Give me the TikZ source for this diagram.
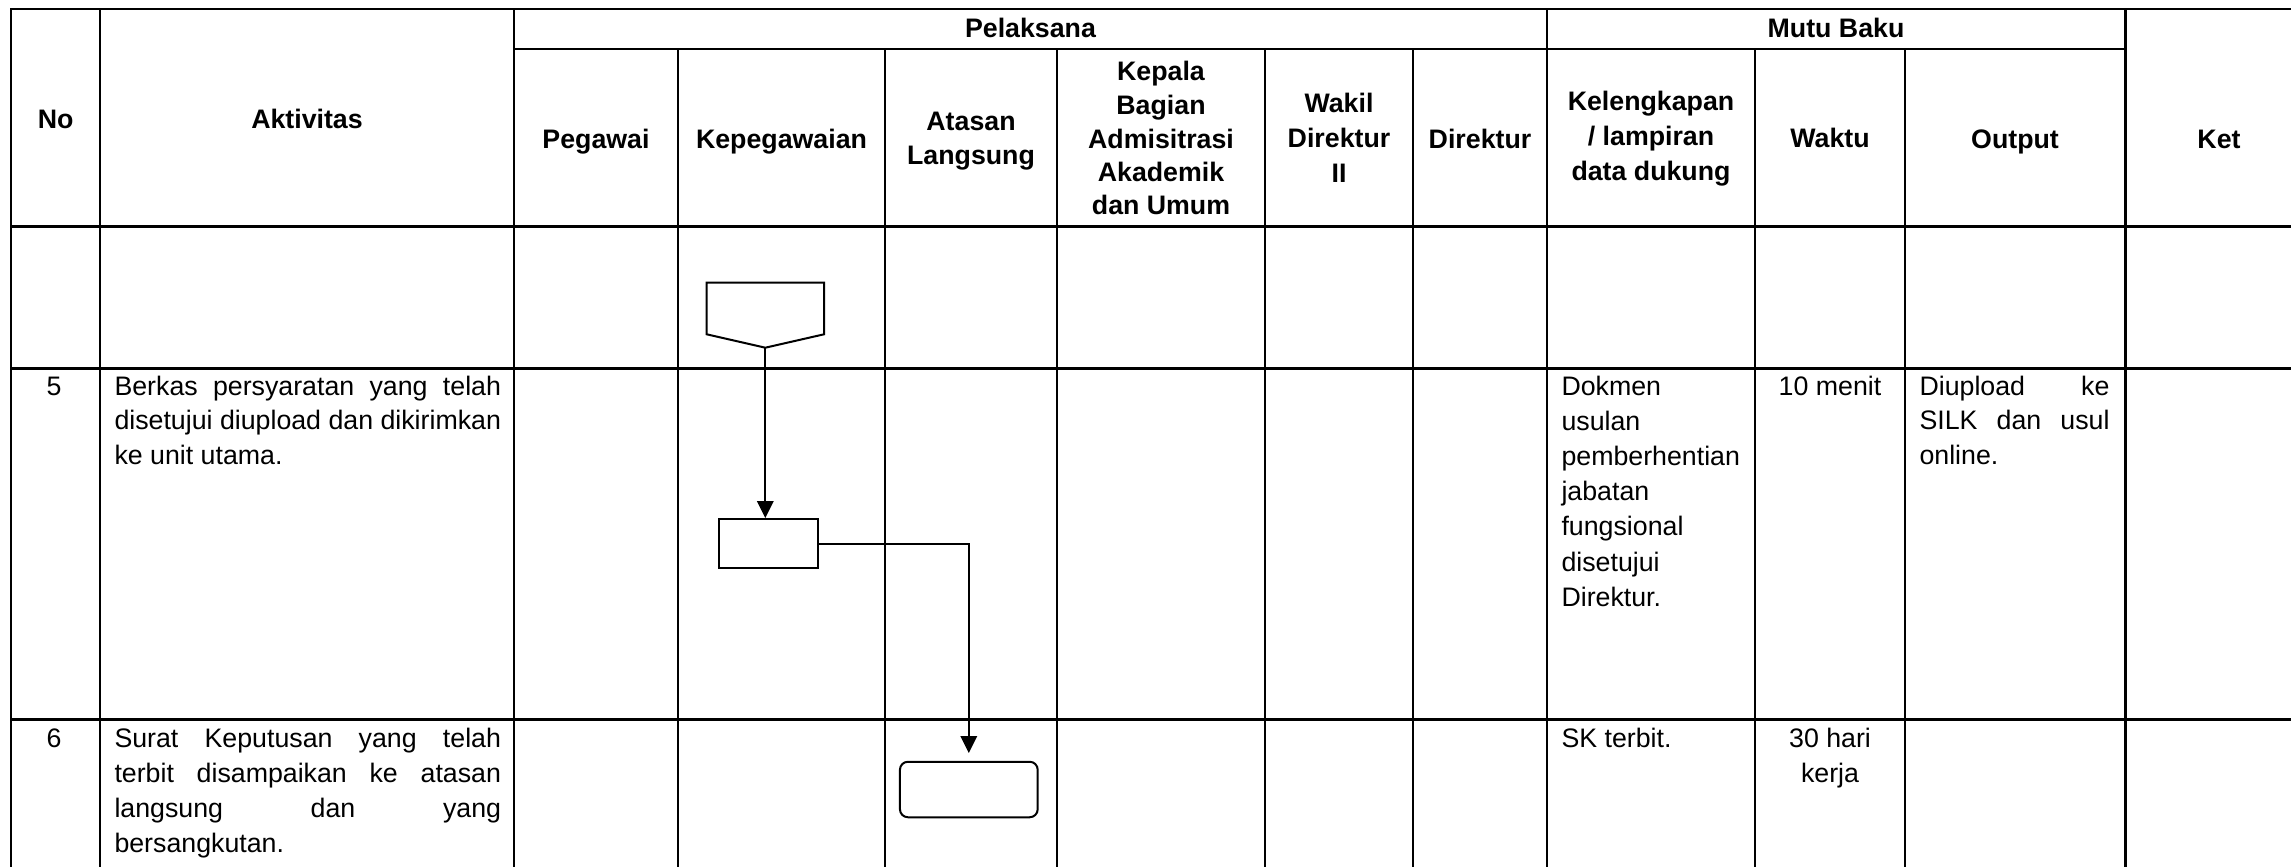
\documentclass[tikz,border=0pt]{standalone}
\usepackage{fontspec}
\setmainfont{Liberation Sans}
\usetikzlibrary{arrows.meta}
\newcommand\myfs{\fontsize{10.7pt}{13pt}\selectfont}
\begin{document}
\begin{tikzpicture}[x=0.4pt,y=-0.4pt,
  gridthin/.style={line width=0.85pt,line cap=rect},
  gridthick/.style={line width=1.25pt,line cap=rect},
  hd/.style={inner sep=0pt,anchor=base,font=\myfs\bfseries},
  tx/.style={inner sep=0pt,anchor=base west,font=\myfs},
  txc/.style={inner sep=0pt,anchor=base,font=\myfs},
  shp/.style={draw,line width=0.8pt,inner sep=0pt},
  flow/.style={line width=0.8pt,-{Triangle[length=6.8pt,width=6.6pt]}}]
\useasboundingbox (0,0) rectangle (2291,866);
% grid
\foreach \x in {11.2,100,514,1547,2125.5} \draw[gridthin] (\x,9.3) -- (\x,866);
\foreach \x in {678,885,1057,1265,1413,1755,1905} \draw[gridthin] (\x,49.3) -- (\x,866);
\draw[gridthin] (11.2,9.3) -- (2291,9.3);
\draw[gridthin] (514,49.3) -- (2125.5,49.3);
\foreach \y in {226.7,368.5,719.5} \draw[gridthick] (11.2,\y) -- (2291,\y);
% header
\node[hd] (hNo) at (55.6,128) {No};
\node[hd] (hAkt) at (307,128) {Aktivitas};
\node[hd] (hPel) at (1030.5,38) {Pelaksana};
\node[hd] (hMutu) at (1836,38) {Mutu Baku};
\node[hd] (hPeg) at (596,148.5) {Pegawai};
\node[hd] (hKep) at (781.5,148.5) {Kepegawaian};
\node[hd] (hAt1) at (971,130) {Atasan};
\node[hd] (hAt2) at (971,164) {Langsung};
\node[hd] (hKa1) at (1161,81) {Kepala};
\node[hd] (hKa2) at (1161,114.5) {Bagian};
\node[hd] (hKa3) at (1161,148) {Admisitrasi};
\node[hd] (hKa4) at (1161,181.5) {Akademik};
\node[hd] (hKa5) at (1161,215) {dan Umum};
\node[hd] (hWa1) at (1339,113) {Wakil};
\node[hd] (hWa2) at (1339,147.5) {Direktur};
\node[hd] (hWa3) at (1339,182) {II};
\node[hd] (hDir) at (1480,148.5) {Direktur};
\node[hd] (hKl1) at (1651,111) {Kelengkapan};
\node[hd] (hKl2) at (1651,145.7) {/ lampiran};
\node[hd] (hKl3) at (1651,180) {data dukung};
\node[hd] (hWak) at (1830,147.5) {Waktu};
\node[hd] (hOut) at (2015,148.5) {Output};
\node[hd] (hKet) at (2219,148.5) {Ket};
% row 5
\node[txc] (n5) at (54,395.5) {5};
\node[tx] (a5a) at (114,395.5) {\makebox[154.6pt][s]{Berkas persyaratan yang telah}};
\node[tx] (a5b) at (114,429.8) {\makebox[154.6pt][s]{disetujui diupload dan dikirimkan}};
\node[tx] (a5c) at (114,464.1) {ke unit utama.};
\node[tx] (k5a) at (1561,395.5) {Dokmen};
\node[tx] (k5b) at (1561,430.6) {usulan};
\node[tx] (k5c) at (1561,465.7) {pemberhentian};
\node[tx] (k5d) at (1561,500.8) {jabatan};
\node[tx] (k5e) at (1561,535.9) {fungsional};
\node[tx] (k5f) at (1561,571.0) {disetujui};
\node[tx] (k5g) at (1561,606.1) {Direktur.};
\node[txc] (w5) at (1830,395.5) {10 menit};
\node[tx] (o5a) at (1919,395.5) {\makebox[76pt][s]{Diupload ke}};
\node[tx] (o5b) at (1919,429.8) {\makebox[76pt][s]{SILK dan usul}};
\node[tx] (o5c) at (1919,464.1) {online.};
% row 6
\node[txc] (n6) at (54,747.3) {6};
\node[tx] (a6a) at (114,747.3) {\makebox[154.6pt][s]{Surat Keputusan yang telah}};
\node[tx] (a6b) at (114,782.4) {\makebox[154.6pt][s]{terbit disampaikan ke atasan}};
\node[tx] (a6c) at (114,817.5) {\makebox[154.6pt][s]{langsung dan yang}};
\node[tx] (a6d) at (114,852.6) {bersangkutan.};
\node[tx] (k6) at (1561,747.3) {SK terbit.};
\node[txc] (w6a) at (1830,747.3) {30 hari};
\node[txc] (w6b) at (1830,782.4) {kerja};
% flow shapes
\draw[shp] (706.7,282.7) -- (824,282.7) -- (824,334.3) -- (765.3,347.7) -- (706.7,334.3) -- cycle;
\coordinate (optip) at (765.3,347.7);
\node[shp,minimum width=39.5pt,minimum height=19.7pt] (proc) at (768.3,543.7) {};
\node[shp,rounded corners=3.2pt,minimum width=55.1pt,minimum height=22.2pt] (term) at (968.8,789.5) {};
\draw[flow] (optip) -- (optip |- proc.north);
\draw[flow,shorten >=3.1pt] (proc.east) -| (term.north);
\end{tikzpicture}
\end{document}
